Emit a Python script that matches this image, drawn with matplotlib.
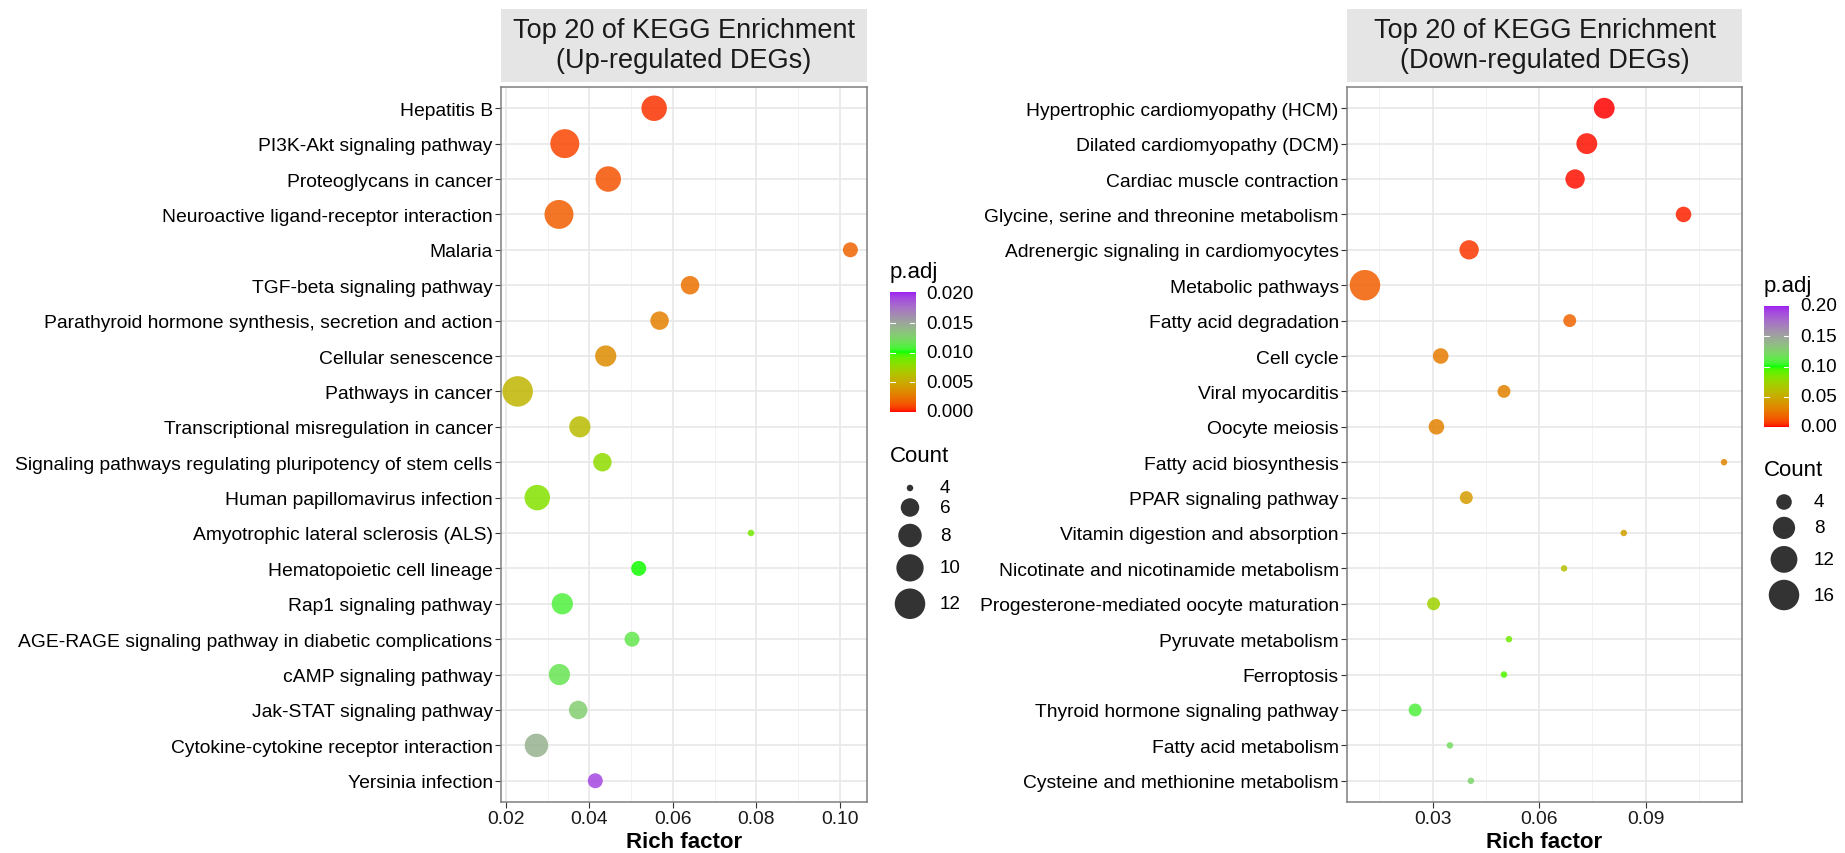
import numpy as np
import matplotlib
matplotlib.use('Agg')
import matplotlib.pyplot as plt
from matplotlib.colors import ListedColormap

plt.rcParams['font.family'] = ['Liberation Sans', 'DejaVu Sans']

# -- Data (up-regulated DEGs)
up_terms = ['Hepatitis B', 'PI3K-Akt signaling pathway', 'Proteoglycans in cancer',
            'Neuroactive ligand-receptor interaction', 'Malaria', 'TGF-beta signaling pathway',
            'Parathyroid hormone synthesis, secretion and action', 'Cellular senescence',
            'Pathways in cancer', 'Transcriptional misregulation in cancer',
            'Signaling pathways regulating pluripotency of stem cells',
            'Human papillomavirus infection', 'Amyotrophic lateral sclerosis (ALS)',
            'Hematopoietic cell lineage', 'Rap1 signaling pathway',
            'AGE-RAGE signaling pathway in diabetic complications', 'cAMP signaling pathway',
            'Jak-STAT signaling pathway', 'Cytokine-cytokine receptor interaction',
            'Yersinia infection']
up_rich = [0.0555, 0.0341, 0.0445, 0.0327, 0.1025, 0.0641, 0.0568, 0.0439, 0.0228, 0.0377,
           0.0431, 0.0275, 0.0787, 0.0518, 0.0335, 0.0502, 0.0328, 0.0373, 0.0273, 0.0414]
up_count = [9, 11, 9, 11, 5, 6, 6, 7, 12, 7, 6, 9, 4, 5, 7, 5, 7, 6, 8, 5]
up_padj = [0.0005, 0.0009, 0.0013, 0.0016, 0.0019, 0.0023, 0.0030, 0.0035, 0.0057, 0.0060,
           0.0080, 0.0083, 0.0088, 0.0101, 0.0110, 0.0115, 0.0117, 0.0130, 0.0145, 0.0193]
up_ticks = [0.02, 0.04, 0.06, 0.08, 0.10]
up_cbar_ticks = [0.000, 0.005, 0.010, 0.015, 0.020]
up_size_breaks = [4, 6, 8, 10, 12]

# -- Data (down-regulated DEGs)
down_terms = ['Hypertrophic cardiomyopathy (HCM)', 'Dilated cardiomyopathy (DCM)',
              'Cardiac muscle contraction', 'Glycine, serine and threonine metabolism',
              'Adrenergic signaling in cardiomyocytes', 'Metabolic pathways',
              'Fatty acid degradation', 'Cell cycle', 'Viral myocarditis', 'Oocyte meiosis',
              'Fatty acid biosynthesis', 'PPAR signaling pathway',
              'Vitamin digestion and absorption', 'Nicotinate and nicotinamide metabolism',
              'Progesterone-mediated oocyte maturation', 'Pyruvate metabolism', 'Ferroptosis',
              'Thyroid hormone signaling pathway', 'Fatty acid metabolism',
              'Cysteine and methionine metabolism']
down_rich = [0.0783, 0.0734, 0.0701, 0.1006, 0.0403, 0.0110, 0.0686, 0.0323, 0.0501, 0.0311,
             0.1120, 0.0395, 0.0838, 0.0670, 0.0303, 0.0515, 0.0501, 0.0251, 0.0349, 0.0408]
down_count = [7, 7, 6, 4, 6, 16, 3, 4, 3, 4, 2, 3, 2, 2, 3, 2, 2, 3, 2, 2]
down_padj = [0.0005, 0.001, 0.0015, 0.003, 0.006, 0.016, 0.018, 0.028, 0.030, 0.030,
             0.032, 0.042, 0.044, 0.062, 0.072, 0.088, 0.094, 0.108, 0.120, 0.124]
down_ticks = [0.03, 0.06, 0.09]
down_cbar_ticks = [0.00, 0.05, 0.10, 0.15, 0.20]
down_size_breaks = [4, 8, 12, 16]

W, H = 1845, 854
DPI = 100


# -- red -> green -> purple, interpolated in Lab like ggplot's gradientn
def to_lab(rgb):
    c = np.asarray(rgb, float)
    c = np.where(c > 0.04045, ((c + 0.055) / 1.055) ** 2.4, c / 12.92)
    M = np.array([[0.4124, 0.3576, 0.1805], [0.2126, 0.7152, 0.0722], [0.0193, 0.1192, 0.9505]])
    xyz = M @ c / np.array([0.95047, 1.0, 1.08883])
    f = np.where(xyz > 0.008856, np.cbrt(xyz), 7.787 * xyz + 16 / 116)
    return np.array([116 * f[1] - 16, 500 * (f[0] - f[1]), 200 * (f[1] - f[2])])


def from_lab(lab):
    L, a, b = lab
    fy = (L + 16) / 116
    f = np.array([fy + a / 500, fy, fy - b / 200])
    xyz = np.where(f > 0.2069, f ** 3, (f - 16 / 116) / 7.787) * np.array([0.95047, 1.0, 1.08883])
    Minv = np.array([[3.2406, -1.5372, -0.4986], [-0.9689, 1.8758, 0.0415], [0.0557, -0.2040, 1.0570]])
    c = Minv @ xyz
    c = np.where(c > 0.0031308, 1.055 * np.clip(c, 0, None) ** (1 / 2.4) - 0.055, 12.92 * c)
    return np.clip(c, 0, 1)


anchors = [to_lab(c) for c in [(1, 0, 0), (0, 1, 0), (160 / 255, 32 / 255, 240 / 255)]]
cols = []
for t in np.linspace(0, 1, 256):
    if t <= 0.5:
        lab = anchors[0] + (anchors[1] - anchors[0]) * t / 0.5
    else:
        lab = anchors[1] + (anchors[2] - anchors[1]) * (t - 0.5) / 0.5
    cols.append(from_lab(lab))
cmap = ListedColormap(cols)


def dot_diam(c, cmin, cmax):
    # ggplot area scale, range 1..6, plus the default stroke
    size = 1 + 5 * np.sqrt((np.asarray(c, float) - cmin) / (cmax - cmin))
    return 4.8 * size + 1.7


def dot_area(c, cmin, cmax):
    return (dot_diam(c, cmin, cmax) * 72 / DPI) ** 2


fig = plt.figure(figsize=(W / DPI, H / DPI), dpi=DPI)


def px_axes(x0, y0, x1, y1):
    return fig.add_axes([x0 / W, (H - y1) / H, (x1 - x0) / W, (y1 - y0) / H])


def panel(box, title, terms, rich, count, padj, ticks, minor, vmax):
    ax = px_axes(*box)
    n = len(terms)
    yy = np.arange(n)
    ax.scatter(rich, yy, s=dot_area(count, min(count), max(count)), c=padj, cmap=cmap,
               vmin=0, vmax=vmax, alpha=0.85, linewidths=0, zorder=3)
    lo, hi = min(rich), max(rich)
    pad = 0.05 * (hi - lo)
    ax.set_xlim(lo - pad, hi + pad)
    ax.set_ylim(n - 0.4, -0.6)
    ax.set_yticks(yy)
    ax.set_yticklabels(terms, fontsize=13.9, color='black')
    ax.set_xticks(ticks)
    ax.set_xticklabels(['%g' % t if t < 0.1 else '%.2f' % t for t in ticks], fontsize=13.9, color='#1a1a1a')
    ax.set_xticks(minor, minor=True)
    ax.tick_params(axis='both', which='major', length=4, width=0.8, color='#333333', pad=2)
    ax.tick_params(axis='x', which='minor', length=0)
    ax.grid(True, which='major', color='#e8e8e8', lw=1.2, zorder=0)
    ax.grid(True, which='minor', axis='x', color='#f0f0f0', lw=0.6, zorder=0)
    ax.set_axisbelow(True)
    for s in ax.spines.values():
        s.set_color('#7f7f7f')
        s.set_linewidth(1.1)
    ax.set_xlabel('Rich factor', fontsize=16, fontweight='bold', labelpad=3)
    # grey title box
    st = px_axes(box[0], 10, box[2], 83)
    st.set_facecolor('#e5e5e5')
    st.set_xticks([])
    st.set_yticks([])
    for s in st.spines.values():
        s.set_visible(False)
    st.text(0.5, 0.5, title, ha='center', va='center', fontsize=19.5, linespacing=1.2,
            transform=st.transAxes, color='#1a1a1a')
    return ax


ax1 = panel((501, 88, 867, 803), 'Top 20 of KEGG Enrichment\n(Up-regulated DEGs)',
            up_terms, up_rich, up_count, up_padj, up_ticks,
            [0.03, 0.05, 0.07, 0.09], 0.0203)
ax2 = panel((1347, 88, 1742, 803), 'Top 20 of KEGG Enrichment\n(Down-regulated DEGs)',
            down_terms, down_rich, down_count, down_padj, down_ticks,
            [0.015, 0.045, 0.075, 0.105], 0.2)

# -- Legends (drawn in pixel space)
lax = fig.add_axes([0, 0, 1, 1])
lax.set_xlim(0, W)
lax.set_ylim(H, 0)
lax.axis('off')


def legends(x0, cb_top, cb_bot, vmax, cticks, fmt, count, breaks, count_y):
    lax.text(x0, cb_top - 20, 'p.adj', fontsize=16, ha='left', va='center')
    cb = px_axes(x0, cb_top, x0 + 25, cb_bot)
    grad = np.linspace(0, 1, 256)[:, None]
    cb.imshow(grad, aspect='auto', cmap=cmap, origin='lower', extent=(0, 1, 0, vmax))
    for t in cticks[1:-1]:
        cb.plot([0, 0.2], [t, t], color='white', lw=0.8)
        cb.plot([0.8, 1], [t, t], color='white', lw=0.8)
    for t in cticks:
        lax.text(x0 + 36, cb_bot - (cb_bot - cb_top) * t / vmax, fmt % t, fontsize=13.6,
                 ha='left', va='center')
    cb.set_xlim(0, 1)
    cb.set_ylim(0, vmax)
    cb.axis('off')
    lax.text(x0, count_y, 'Count', fontsize=16, ha='left', va='center')
    cmin, cmax = min(count), max(count)
    d = dot_diam(breaks, cmin, cmax)
    h = d + 7
    ys = count_y + 32 + np.concatenate([[0], np.cumsum((h[:-1] + h[1:]) / 2)])
    lax.scatter([x0 + 20] * len(breaks), ys, s=dot_area(breaks, cmin, cmax), color='black',
                alpha=0.8, linewidths=0)
    for b, y in zip(breaks, ys):
        lax.text(x0 + 50, y, str(b), fontsize=13.6, ha='left', va='center')


legends(890, 293, 413, 0.0203, up_cbar_ticks, '%.3f', up_count, up_size_breaks, 457)
legends(1764, 307, 428, 0.2, down_cbar_ticks, '%.2f', down_count, down_size_breaks, 471)

plt.savefig('out.png', dpi=DPI)
